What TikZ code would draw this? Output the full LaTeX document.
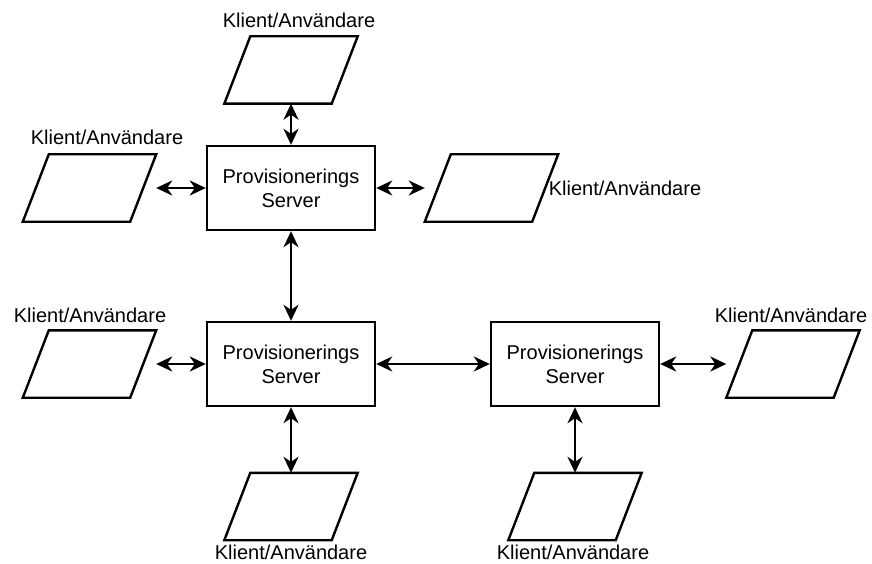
\documentclass[tikz,border=0pt]{standalone}
\usepackage{fontspec}
\setmainfont{Liberation Sans}
\usetikzlibrary{arrows.meta}

\tikzset{
	server/.style={draw, line width=2.4pt, minimum width=168pt, minimum height=84pt, align=center, inner sep=0pt},
	client/.style={minimum width=133pt, minimum height=67pt, inner sep=0pt},
}

\begin{document}
\begin{tikzpicture}[x=1pt,y=-1pt,font=\fontsize{20}{24}\selectfont]
	\useasboundingbox (0,0) rectangle (872,564);
	% servers
	\node[server] (S1) at (291,188) {Provisionerings\\Server};
	\node[server] (S2) at (291,364) {Provisionerings\\Server};
	\node[server] (S3) at (575,364) {Provisionerings\\Server};
	% clients
	\node[client] (K1) at (291,70) {};
	\node[client] (K2) at (89.5,188) {};
	\node[client] (K3) at (491.5,188) {};
	\node[client] (K4) at (89.5,364) {};
	\node[client] (K5) at (793,364) {};
	\node[client] (K6) at (291,506.5) {};
	\node[client] (K7) at (575,506.5) {};
	\foreach \k in {K1,K2,K3,K4,K5,K6,K7}
		\draw[line width=2.4pt] ([xshift=26pt]\k.north west) -- (\k.north east)
			-- ([xshift=-26pt]\k.south east) -- (\k.south west) -- cycle;
	% labels
	\node (L1) at (299,20) {Klient/Användare};
	\node (L2) at (107,137) {Klient/Användare};
	\node (L3) at (625,188) {Klient/Användare};
	\node (L4) at (90,315) {Klient/Användare};
	\node (L5) at (791,315) {Klient/Användare};
	\node (L6) at (291,552) {Klient/Användare};
	\node (L7) at (573,552) {Klient/Användare};
	%
	\path[<->,>={Stealth[length=16pt,width=15pt,inset=5pt]},line width=2.2pt]
	% horizontal arrows
	(K2) edge (S1)
	(S1) edge (K3)
	(K4) edge (S2)
	(S2) edge (S3)
	(S3) edge (K5)
	% vertical arrows
	(K1) edge (S1)
	(S1) edge (S2)
	(S2) edge (K6)
	(S3) edge (K7);
\end{tikzpicture}
\end{document}
